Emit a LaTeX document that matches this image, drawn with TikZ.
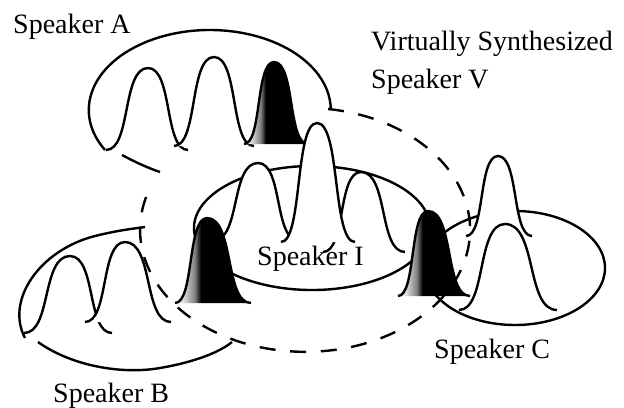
\documentclass[tikz,border=0pt]{standalone}
\usepackage{fontspec}
\setmainfont{Liberation Serif}

% grey-to-black fill of the highlighted peaks
\pgfdeclarehorizontalshading{peakfill}{100bp}{color(0bp)=(white); color(26bp)=(white); color(31bp)=(black!15); color(38bp)=(black!50); color(42bp)=(black); color(100bp)=(black)}

\tikzset{every picture/.style={line width=1.8pt}}
\tikzset{
	spktext/.style={font=\fontsize{21}{25}\selectfont, inner sep=0pt},
	dashring/.style={dash pattern=on 12pt off 11pt},
	% bump: left half-width / right half-width / height, origin at the foot
	pics/bump/.style args={#1/#2/#3}{code={
		\fill[white] (-#1,0) .. controls ({-0.4*#1},0) and ({-0.62*#1},#3) .. (0,#3) .. controls ({0.62*#2},#3) and ({0.4*#2},0) .. (#2,0) -- cycle;
		\draw (-#1,0) .. controls ({-0.4*#1},0) and ({-0.62*#1},#3) .. (0,#3) .. controls ({0.62*#2},#3) and ({0.4*#2},0) .. (#2,0);
	}},
	pics/darkbump/.style args={#1/#2/#3}{code={
		\shade[shading=peakfill] (-#1,0) .. controls ({-0.4*#1},0) and ({-0.62*#1},#3) .. (0,#3) .. controls ({0.62*#2},#3) and ({0.4*#2},0) .. (#2,0) -- cycle;
		\draw (-#1,0) .. controls ({-0.4*#1},0) and ({-0.62*#1},#3) .. (0,#3) .. controls ({0.62*#2},#3) and ({0.4*#2},0) .. (#2,0);
	}}
}

\begin{document}
\begin{tikzpicture}[x=0.75pt,y=0.75pt,yscale=-1,xscale=1]
	\useasboundingbox (0,0) rectangle (624,407);
	
	%Speaker A: ring and peaks
	\draw (105,150) arc [start angle=150, end angle=360, x radius=121, y radius=80];
	\draw (122,155) .. controls (135,162) and (148,168) .. (160,172);
	\pic at (148,150) {bump=42/40/82};
	\pic at (214,146) {bump=40/40/89};
	\pic at (274,144) {darkbump=30/34/82};
	
	%Speaker V: dashed ring
	\draw [dashring] (328,109) arc [start angle=-82, end angle=200, x radius=165, y radius=122];
	
	%Speaker I: ring and peaks
	\draw (312,228) ellipse [x radius=118, y radius=62];
	\pic at (258,240) {bump=44/40/77};
	\pic at (361,252) {bump=38/44/80};
	\pic at (317,242) {bump=36/38/119};
	
	%Speaker C: ring and peaks
	\draw (515,268) ellipse [x radius=90, y radius=57];
	\pic at (498,236) {bump=32/34/80};
	\pic at (505,310) {bump=46/52/86};
	\pic at (428,296) {darkbump=30/42/85};
	
	%Speaker B: ring and peaks
	\draw (25,338) .. controls (5,300) and (40,250) .. (95,236) .. controls (115,231) and (130,229) .. (145,227);
	\draw (38,342) .. controls (70,365) and (120,375) .. (160,368) .. controls (195,362) and (220,352) .. (232,342);
	\pic at (70,333) {bump=46/42/77};
	\pic at (125,322) {bump=40/46/80};
	\pic at (207,303) {darkbump=32/44/85};
	
	\node (spkA) [spktext, anchor=base west] at (12,33) {Speaker A};
	\node (virt) [spktext, anchor=base west] at (370,50) {Virtually Synthesized};
	\node (spkV) [spktext, anchor=base west] at (370,88) {Speaker V};
	\node (spkI) [spktext, anchor=base west] at (256,265) {Speaker I};
	\node (spkB) [spktext, anchor=base west] at (52,402) {Speaker B};
	\node (spkC) [spktext, anchor=base west] at (433,358) {Speaker C};
	
\end{tikzpicture}
\end{document}
